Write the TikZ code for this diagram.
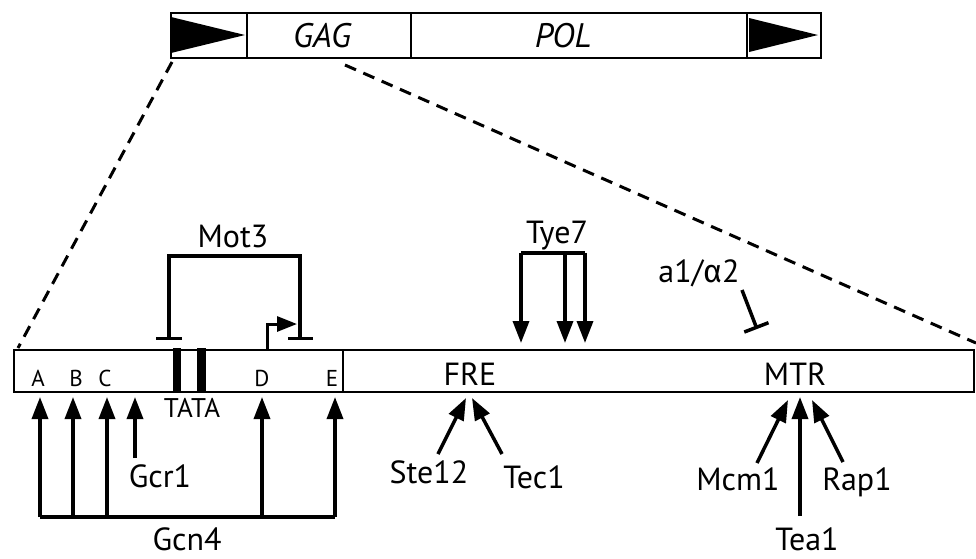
\documentclass[tikz,border=0pt]{standalone}
\usepackage{fontspec}
\setmainfont{PT Sans}
\newfontfamily\greekfont{Fira Sans}
\usetikzlibrary{arrows.meta}

\begin{document}
\begin{tikzpicture}[x=1pt, y=-1pt,
    lbl/.style={font=\fontsize{32}{36}\selectfont, inner sep=0pt, anchor=base},
    sml/.style={font=\fontsize{23}{27}\selectfont, inner sep=0pt, anchor=base},
    gene/.style={font=\fontsize{34}{38}\selectfont\itshape, inner sep=0pt, anchor=base},
    act/.style={line width=3.5pt, -{Triangle[length=22pt,width=16pt]}},
    inh/.style={line width=3.5pt, -{Bar[width=26pt]}},
    link/.style={line width=3.5pt},
    outline/.style={line width=2.5pt},
    zoomline/.style={line width=3pt, dash pattern=on 12pt off 8pt}]
    \useasboundingbox (0,0) rectangle (976,558);

    % Retrotransposon with LTRs
    \draw[outline] (171,13) rectangle (821,58);
    \foreach \x in {247,411,747} \draw[outline] (\x,13) -- (\x,58);
    \fill (171,17) -- (245,35) -- (171,53) -- cycle;
    \fill (749,18) -- (818,35) -- (749,52) -- cycle;
    \node[gene] (gag) at (322,47) {GAG};
    \node[gene] (pol) at (563,47) {POL};

    % Zoom into the LTR
    \coordinate (topL) at (172,62);
    \coordinate (topR) at (345,65);
    \coordinate (ltrL) at (18,348);
    \coordinate (ltrR) at (976,343);
    \draw[zoomline] (topL) -- (ltrL);
    \draw[zoomline] (topR) -- (ltrR);

    % LTR promoter region
    \draw[outline] (14,350) rectangle (974,392);
    \draw[outline] (343,350) -- (343,392);
    \fill (173,348) rectangle (181,393);
    \fill (197,348) rectangle (206,393);
    \node[sml, font=\fontsize{27}{30}\selectfont] (tata) at (192,417) {TATA};
    \foreach \s/\x in {A/38,B/76,C/105,D/262,E/332}
        \node[sml] (site\s) at (\x,386) {\s};
    \node[lbl] (fre) at (470,385) {FRE};
    \node[lbl] (mtr) at (795,385) {MTR};

    % Mot3
    \node[lbl] (mot3) at (233,247) {Mot3};
    \coordinate (motL) at (169,340);
    \coordinate (motR) at (300,340);
    \coordinate (mottop) at (233,256);
    \draw[link, {Bar[width=26pt]}-{Bar[width=25pt]}] (motL) |- (mottop) -| (motR);

    % transcription start
    \coordinate (tss) at (267,350);
    \coordinate (tssend) at (297,324);
    \draw[line width=3pt, -{Triangle[length=20pt,width=15pt]}] (tss) |- (tssend);

    % Tye7
    \node[lbl] (tye7) at (557,243) {Tye7};
    \coordinate (tyebar) at (553,253);
    \coordinate (tyeA) at (521,343);
    \coordinate (tyeB) at (565,343);
    \coordinate (tyeC) at (585,343);
    \draw[link] (tyebar -| tyeA) -- (tyebar -| tyeC);
    \foreach \t in {A,B,C} \draw[act] (tyebar -| tye\t) -- (tye\t);

    % a1/alpha2
    \node[lbl] (a1a2) at (699,282) {a1/{\greekfont α}2};
    \coordinate (a1from) at (742,290);
    \coordinate (a1to) at (757,329);
    \draw[inh] (a1from) -- (a1to);

    % Gcn4 and Gcr1
    \node[lbl] (gcn4) at (187,550) {Gcn4};
    \coordinate (gcnbar) at (187,517);
    \foreach \s/\x in {A/40,B/73,C/107,D/262,E/335} {
        \coordinate (tip\s) at (\x,397);
        \draw[act] (tip\s |- gcnbar) -- (tip\s);
    }
    \draw[link] (tipA |- gcnbar) -- (tipE |- gcnbar);
    \node[lbl] (gcr1) at (160,487) {Gcr1};
    \coordinate (gcrfoot) at (135,458);
    \coordinate (gcrtip) at (135,397);
    \draw[act] (gcrfoot) -- (gcrtip);

    % Ste12 and Tec1
    \node[lbl] (ste12) at (429,483) {Ste12};
    \node[lbl] (tec1) at (534,488) {Tec1};
    \coordinate (steA) at (438,454);
    \coordinate (steB) at (466,398);
    \coordinate (tecA) at (502,454);
    \coordinate (tecB) at (472,398);
    \draw[act] (steA) -- (steB);
    \draw[act] (tecA) -- (tecB);

    % Mcm1, Tea1 and Rap1
    \node[lbl] (mcm1) at (738,490) {Mcm1};
    \node[lbl] (rap1) at (857,490) {Rap1};
    \node[lbl] (tea1) at (807,550) {Tea1};
    \coordinate (mcmA) at (757,463);
    \coordinate (mcmB) at (788,400);
    \coordinate (teaA) at (800,516);
    \coordinate (teaB) at (800,397);
    \coordinate (rapA) at (843,462);
    \coordinate (rapB) at (812,400);
    \draw[act] (mcmA) -- (mcmB);
    \draw[act] (teaA) -- (teaB);
    \draw[act] (rapA) -- (rapB);

\end{tikzpicture}
\end{document}
